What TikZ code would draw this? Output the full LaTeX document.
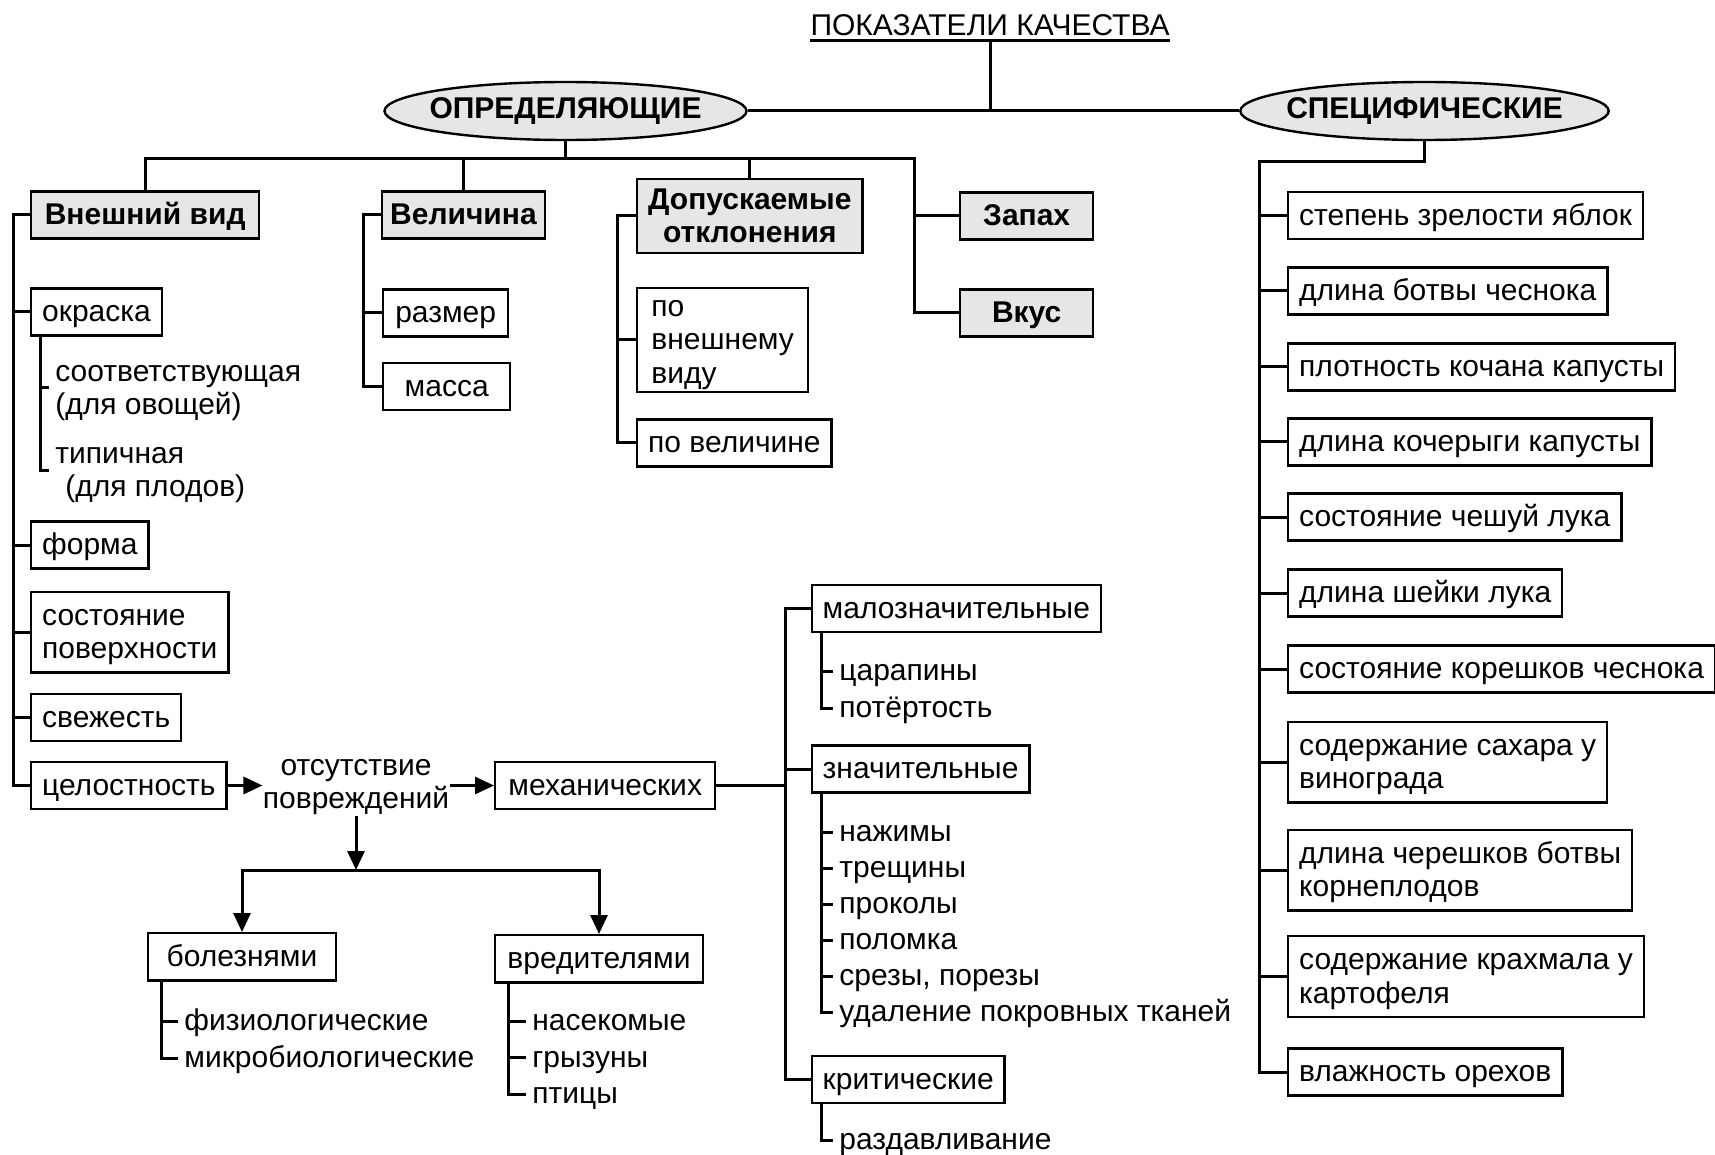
\documentclass[tikz,border=0pt]{standalone}
\usepackage{fontspec}
\setmainfont{Liberation Sans}
\usepackage{tikz}
\usetikzlibrary{shapes.geometric, arrows.meta}
\definecolor{headGray}{RGB}{230,230,230}
\newcommand{\diagfont}{\fontsize{15pt}{16.75pt}\selectfont}
\newcommand{\boxstrut}{\rule[-3.4pt]{0pt}{16.75pt}}
\tikzset{
  conn/.style={line width=1.5pt},
  arr/.style={conn, -{Triangle[length=9.5pt, width=8.5pt]}},
  txt/.style={font=\diagfont, execute at begin node=\boxstrut, execute at end node=\boxstrut},
  leafbox/.style={txt, draw, fill=white, line width=1.2pt, align=left, inner xsep=5.5pt, inner ysep=3.4pt},
  headbox/.style={leafbox, fill=headGray, font=\diagfont\bfseries},
  item/.style={txt, align=left, inner xsep=3pt, inner ysep=0pt},
  oval/.style={ellipse, draw, fill=headGray, line width=1.2pt, font=\diagfont\bfseries,
    minimum width=181pt, minimum height=29pt, inner xsep=-4pt, inner ysep=0pt},
}

\begin{document}
\begin{tikzpicture}[x=0.5pt, y=-0.5pt]
  \useasboundingbox (0,0) rectangle (1715,1155);

  % top level
  \node[font=\diagfont, inner sep=0pt, anchor=base] (title) at (990,36) {ПОКАЗАТЕЛИ КАЧЕСТВА};
  \draw[line width=1.2pt] ([yshift=-2.25pt]title.base west) -- ([yshift=-2.25pt]title.base east);
  \node[oval] (defin) at (565.5,111) {ОПРЕДЕЛЯЮЩИЕ};
  \node[oval] (specif) at (1424.5,111) {СПЕЦИФИЧЕСКИЕ};
  \draw[conn] (defin) -- (specif);
  \draw[conn] ([yshift=-2.25pt]title.base) -- (title.base |- defin.east);

  % defining indices
  \node[headbox, anchor=west, minimum width=114pt] (appear) at (30,215) {Внешний вид};
  \node[headbox, anchor=west, inner xsep=4pt] (size) at (381,215) {Величина};
  \node[headbox, anchor=west, align=center, inner ysep=1.7pt] (devia) at (636,216) {\boxstrut Допускаемые\\отклонения};
  \node[headbox, anchor=west, minimum width=66.5pt] (smell) at (959,216) {Запах};
  \node[headbox, anchor=west, minimum width=66.5pt] (taste) at (959,313) {Вкус};

  \coordinate (bar) at (914.5,158.5);
  \draw[conn] (appear.north) |- (bar) |- (taste.west);
  \draw[conn] (defin.south) -- (defin.south |- bar);
  \draw[conn] (size.north) -- (size.north |- bar);
  \draw[conn] (devia.north) -- (devia.north |- bar);
  \draw[conn] (smell.west) -- (smell.west -| bar);

  % appearance
  \node[leafbox, anchor=west] (colour) at (30,312) {окраска};
  \node[leafbox, anchor=west] (shape) at (30,545) {форма};
  \node[leafbox, anchor=west] (surface) at (30,632) {\boxstrut состояние\\поверхности};
  \node[leafbox, anchor=west] (fresh) at (30,717.5) {свежесть};
  \node[leafbox, anchor=west] (whole) at (30,785.5) {целостность};
  \draw[conn] (appear.west) -- ++(-16.3,0) coordinate (aspine) |- (whole.west);
  \foreach \n in {colour, shape, surface, fresh}
    \draw[conn] (\n.west) -- (\n.west -| aspine);

  \node[item, anchor=west] (match) at (49,388) {\boxstrut соответствующая\\(для овощей)};
  \node[item, anchor=west] (typical) at (49,470) {\boxstrut типичная\\\hspace*{5pt}(для плодов)};
  \draw[conn] ([xshift=5pt]colour.south west) coordinate (cspine) |- (typical.west);
  \draw[conn] (match.west) -- (match.west -| cspine);

  % size
  \node[leafbox, anchor=west, minimum width=62.5pt] (dim) at (382,313) {размер};
  \node[leafbox, anchor=west, minimum width=63.5pt] (mass) at (382,386.5) {масса};
  \draw[conn] (size.west) -- ++(-17.3,0) coordinate (sspine) |- (mass.west);
  \draw[conn] (dim.west) -- (dim.west -| sspine);

  % deviations
  \node[leafbox, anchor=west, inner ysep=0.75pt, minimum width=85.5pt] (bylook) at (636,340) {\boxstrut по\\внешнему\\виду};
  \node[leafbox, anchor=west] (bysize) at (636,443) {по величине};
  \draw[conn] (devia.west) -- ++(-19,0) coordinate (dspine) |- (bysize.west);
  \draw[conn] (bylook.west) -- (bylook.west -| dspine);

  % damage
  \node[item, align=center, inner sep=0pt] (absence) at (356,782) {\boxstrut отсутствие\\повреждений};
  \node[leafbox, anchor=west, minimum width=110pt] (mech) at (494,785.5) {механических};
  \draw[arr] (whole.east) -- (whole.east -| absence.west);
  \draw[arr] (absence.east |- mech.west) -- (mech.west);

  \coordinate (fork) at (356,870);
  \node[leafbox, anchor=north, minimum width=94pt] (disease) at (242,932) {болезнями};
  \node[leafbox, anchor=north, minimum width=104pt] (pests) at (599,934) {вредителями};
  \draw[arr] (absence.south) -- (fork);
  \draw[arr] (fork) -| (disease.north);
  \draw[arr] (fork) -| (pests.north);

  \foreach \t [count=\i] in {физиологические, микробиологические}
    \node[item, anchor=west] (disease-\i) at (178, 984+37*\i) {\t};
  \draw[conn] ([xshift=7.5pt]disease.south west) coordinate (bspine) |- (disease-2.west);
  \draw[conn] (disease-1.west) -- (disease-1.west -| bspine);

  \foreach \t [count=\i] in {насекомые, грызуны, птицы}
    \node[item, anchor=west] (pests-\i) at (526, 984.5+36.5*\i) {\t};
  \draw[conn] ([xshift=7.5pt]pests.south west) coordinate (pspine) |- (pests-3.west);
  \foreach \i in {1,2}
    \draw[conn] (pests-\i.west) -- (pests-\i.west -| pspine);

  % mechanical damage
  \node[leafbox, anchor=west] (minor) at (810.5,608.5) {малозначительные};
  \node[leafbox, anchor=west] (major) at (810.5,769) {значительные};
  \node[leafbox, anchor=west] (critical) at (810.5,1079.5) {критические};
  \draw[conn] (minor.west) -- ++(-25,0) coordinate (mspine) |- (critical.west);
  \draw[conn] (major.west) -- (major.west -| mspine);
  \draw[conn] (mech.east) -- (mech.east -| mspine);

  \foreach \t [count=\i] in {царапины, потёртость}
    \node[item, anchor=west] (minor-\i) at (833, 634+37*\i) {\t};
  \draw[conn] ([xshift=5.25pt]minor.south west) coordinate (m1) |- (minor-2.west);
  \draw[conn] (minor-1.west) -- (minor-1.west -| m1);

  \foreach \t [count=\i] in {нажимы, трещины, проколы, поломка, {срезы, порезы}, удаление покровных тканей}
    \node[item, anchor=west] (major-\i) at (833, 796+36*\i) {\t};
  \draw[conn] ([xshift=5.25pt]major.south west) coordinate (m2) |- (major-6.west);
  \foreach \i in {1,...,5}
    \draw[conn] (major-\i.west) -- (major-\i.west -| m2);

  \node[item, anchor=west] (crush) at (833,1140) {раздавливание};
  \draw[conn] ([xshift=5.25pt]critical.south west) |- (crush.west);

  % specific indices
  \foreach \y/\n/\t in {215.5/ripeness/{степень зрелости яблок}, 291/garlic/{длина ботвы чеснока},
      367/cabbage/{плотность кочана капусты}, 442/stalk/{длина кочерыги капусты},
      517/scales/{состояние чешуй лука}, 593/neck/{длина шейки лука},
      669/roots/{состояние корешков чеснока}, 762/sugar/{содержание сахара у\\винограда},
      870/petiole/{длина черешков ботвы\\корнеплодов}, 976.5/starch/{содержание крахмала у\\картофеля},
      1072/nuts/{влажность орехов}}
    \node[leafbox, anchor=west] (\n) at (1287,\y) {\boxstrut\t};
  \coordinate (rtop) at (1259,161.5);
  \draw[conn] (specif.south) |- (rtop) |- (nuts.west);
  \foreach \n in {ripeness, garlic, cabbage, stalk, scales, neck, roots, sugar, petiole, starch}
    \draw[conn] (\n.west) -- (\n.west -| rtop);
\end{tikzpicture}
\end{document}
